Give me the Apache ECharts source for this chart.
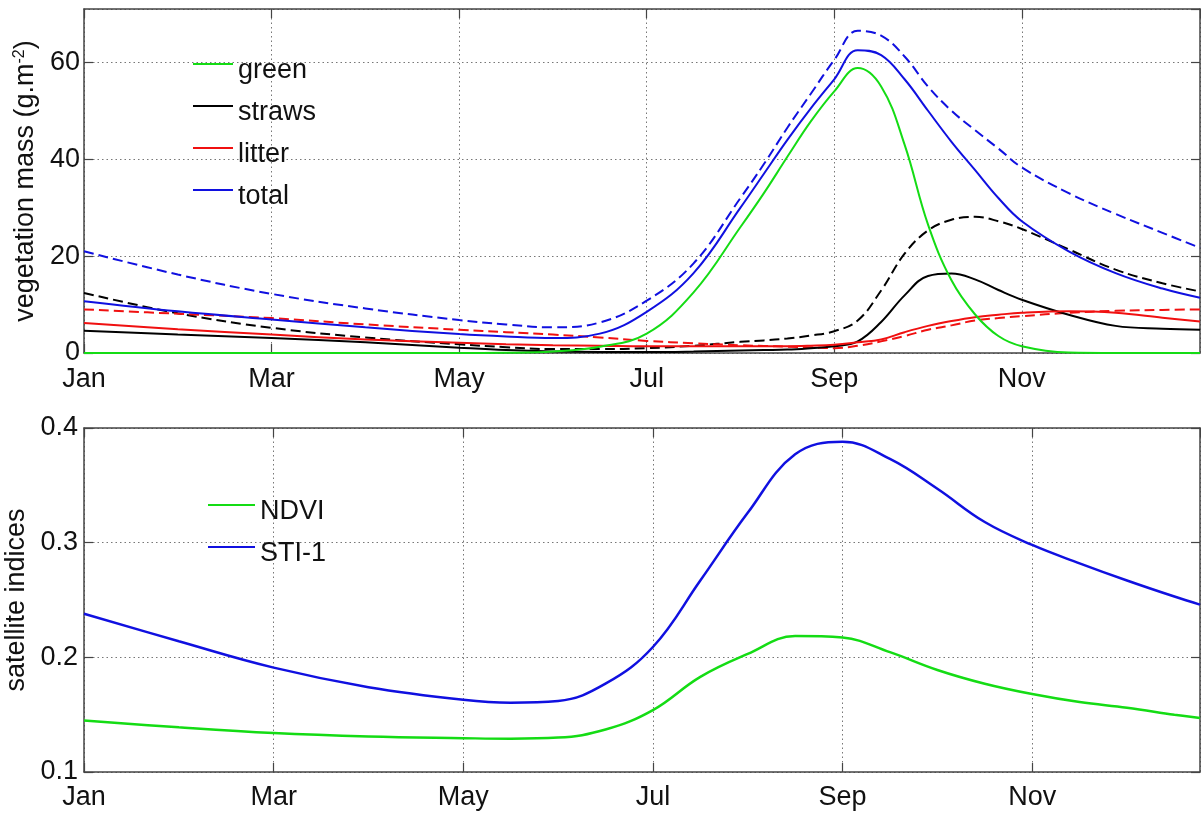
<!DOCTYPE html>
<html>
<head>
<meta charset="utf-8">
<script src="https://cdn.jsdelivr.net/npm/echarts@6/dist/echarts.min.js"></script>
<style>
  html, body { margin: 0; padding: 0; background: #fff; }
  #chart { width: 1201px; height: 816px; }
</style>
</head>
<body>
<div id="chart"></div>
<script>
// month names, ticks every 2 months starting at Jan (x = 0)
var monthNames = ["Jan", "Feb", "Mar", "Apr", "May", "Jun", "Jul", "Aug", "Sep", "Oct", "Nov", "Dec"];

// top panel: vegetation mass (g.m-2), x in months since Jan 1
var massMonths = [0, 1, 2, 3, 4, 4.5, 5, 5.5, 6, 6.5, 7, 7.25, 7.5, 7.75, 8, 8.25, 8.5, 8.75, 9, 9.25, 9.5, 9.75, 10, 10.5, 11, 11.5, 11.9];
var greenMass = [0, 0, 0, 0, 0, 0.05, 0.3, 1.3, 4.0, 12.5, 26.0, 33.0, 40.5, 47.8, 54.0, 58.8, 55.0, 43.0, 26.5, 15.0, 8.0, 3.5, 1.4, 0.1, 0, 0, 0];
var strawsMass = [4.6, 3.8, 3.1, 2.2, 1.1, 0.6, 0.3, 0.2, 0.2, 0.3, 0.5, 0.6, 0.7, 1.0, 1.4, 2.4, 6.4, 11.9, 15.9, 16.4, 15.2, 13.0, 11.0, 7.9, 5.6, 5.0, 4.8];
var strawsMassAlt = [12.4, 8.2, 5.2, 3.2, 1.8, 1.2, 0.8, 0.8, 1.0, 1.5, 2.3, 2.6, 3.0, 3.6, 4.5, 6.7, 12.9, 20.5, 25.3, 27.5, 28.1, 27.2, 25.6, 21.4, 17.2, 14.4, 12.7];
var litterMass = [6.2, 4.9, 3.8, 2.8, 2.1, 1.8, 1.6, 1.5, 1.4, 1.4, 1.4, 1.4, 1.4, 1.5, 1.7, 2.2, 2.8, 4.3, 5.6, 6.6, 7.4, 7.9, 8.3, 8.6, 8.3, 7.3, 6.5];
var litterMassAlt = [9.0, 8.1, 7.2, 5.9, 4.8, 4.3, 3.8, 3.2, 2.5, 2.0, 1.6, 1.45, 1.3, 1.15, 1.0, 1.5, 2.4, 3.5, 4.8, 5.7, 6.7, 7.2, 7.6, 8.3, 8.7, 8.9, 9.0];
var totalMass = [10.7, 8.6, 6.9, 5.3, 3.9, 3.4, 3.1, 4.0, 8.5, 16.5, 30.0, 37.0, 44.0, 50.5, 56.5, 62.5, 61.5, 56.5, 50.0, 43.6, 37.8, 32.0, 27.2, 21.0, 16.5, 13.3, 11.4];
var totalMassAlt = [21.0, 16.2, 12.2, 9.2, 6.8, 5.9, 5.3, 6.3, 10.8, 18.5, 32.0, 39.0, 46.5, 53.5, 60.5, 66.5, 65.5, 61.2, 55.0, 50.0, 46.0, 42.2, 38.3, 33.0, 28.7, 24.8, 21.7];

// bottom panel: satellite indices
var indexMonths = [0, 1, 2, 3, 4, 4.5, 5, 5.5, 6, 6.5, 7, 7.5, 8, 8.5, 9, 9.5, 10, 10.5, 11, 11.5, 11.77];
var ndviValues = [0.145, 0.139, 0.134, 0.131, 0.1295, 0.129, 0.130, 0.137, 0.154, 0.183, 0.203, 0.2185, 0.2172, 0.2045, 0.189, 0.177, 0.168, 0.161, 0.156, 0.150, 0.147];
var stiValues = [0.238, 0.214, 0.191, 0.174, 0.163, 0.1605, 0.162, 0.177, 0.209, 0.267, 0.326, 0.377, 0.388, 0.373, 0.347, 0.318, 0.298, 0.282, 0.267, 0.253, 0.246];

var FONT = '"Liberation Sans", Arial, Helvetica, sans-serif';
var AXIS_COLOR = "#444";
var GREEN = "#14dc14", BLACK = "#000000", RED = "#f01010", BLUE = "#1010e0";

function pairs(xs, ys) {
    return xs.map(function(x, i) { return [x, ys[i]]; });
}

function monthLabel(v) {
    return monthNames[Math.round(v)] || "";
}

// x axis: bottom one has labels + dotted grid, top one only closes the box
function makeX(grid, max, top, margin) {
    return {
        type: "value", gridIndex: grid, position: top ? "top" : "bottom",
        min: 0, max: max, interval: 2,
        axisLine: { show: true, onZero: false, lineStyle: { color: AXIS_COLOR, width: 1.5 } },
        axisTick: { show: true, inside: true, length: 9, lineStyle: { color: AXIS_COLOR, width: 1.2 } },
        axisLabel: { show: !top, formatter: monthLabel, fontSize: 27, fontFamily: FONT, color: "#111",
            margin: margin, showMaxLabel: false },
        splitLine: { show: !top, lineStyle: { color: "#777", type: [1.5, 3], width: 1 } }
    };
}

function makeY(grid, min, max, interval, right, extra) {
    var ax = {
        type: "value", gridIndex: grid, position: right ? "right" : "left",
        min: min, max: max, interval: interval,
        axisLine: { show: true, onZero: false, lineStyle: { color: AXIS_COLOR, width: 1.5 } },
        axisTick: { show: true, inside: true, length: 9, lineStyle: { color: AXIS_COLOR, width: 1.2 } },
        axisLabel: { show: !right, fontSize: 27, fontFamily: FONT, color: "#111" },
        splitLine: { show: !right, lineStyle: { color: "#777", type: [1.5, 3], width: 1 } }
    };
    for (var k in extra) ax[k] = extra[k];
    return ax;
}

function line(name, xs, ys, color, dashed, xi, width) {
    return {
        name: name, type: "line", xAxisIndex: xi, yAxisIndex: xi,
        data: pairs(xs, ys), symbol: "none", smooth: 0.4,
        clip: false, silent: true,
        lineStyle: { color: color, width: width || 2, type: dashed ? [10, 5] : "solid" },
        itemStyle: { color: color }
    };
}

// legend: thin rect icon = line sample, text sits a bit lower than the line
var legendText = {
    fontSize: 27, fontFamily: FONT, color: "#111",
    rich: { t: { fontSize: 27, fontFamily: FONT, color: "#111", padding: [13, 0, 0, 0] } }
};
function legendFmt(name) { return "{t|" + name + "}"; }

var option = {
    animation: false,
    backgroundColor: "#fff",
    grid: [
        { left: 84, right: 1, top: 9, height: 344, outerBoundsMode: "none", containLabel: false },
        { left: 84, right: 1, top: 428, height: 344, outerBoundsMode: "none", containLabel: false }
    ],
    xAxis: [
        makeX(0, 11.9, false, 13), makeX(0, 11.9, true, 0),
        makeX(1, 11.77, false, 12), makeX(1, 11.77, true, 0)
    ],
    yAxis: [
        makeY(0, 0, 71, 20, false, {
            name: "vegetation mass (g.m{sup|-2})", nameLocation: "middle", nameGap: 41,
            nameTextStyle: { fontSize: 27, fontFamily: FONT, color: "#111",
                rich: { sup: { fontSize: 16, fontFamily: FONT, color: "#111", verticalAlign: "top", padding: [0, 0, 12, 0] } } },
            axisLabel: { fontSize: 27, fontFamily: FONT, color: "#111", margin: 4, showMaxLabel: false }
        }),
        makeY(0, 0, 71, 20, true, {}),
        makeY(1, 0.1, 0.4, 0.1, false, {
            name: "satellite indices", nameLocation: "middle", nameGap: 52,
            nameTextStyle: { fontSize: 27, fontFamily: FONT, color: "#111" },
            axisLabel: { fontSize: 27, fontFamily: FONT, color: "#111", margin: 6,
                formatter: function(v) { return (Math.round(v * 10) / 10).toFixed(1); } }
        }),
        makeY(1, 0.1, 0.4, 0.1, true, {})
    ],
    legend: [
        { data: ["green", "straws", "litter", "total"], orient: "vertical", left: 193, top: 57,
          icon: "rect", itemWidth: 40, itemHeight: 2, itemGap: 15, padding: 0, selectedMode: false,
          formatter: legendFmt, textStyle: legendText },
        { data: ["NDVI", "STI-1"], orient: "vertical", left: 208, top: 498,
          icon: "rect", itemWidth: 47, itemHeight: 2, itemGap: 15, padding: 0, selectedMode: false,
          formatter: legendFmt, textStyle: legendText }
    ],
    series: [
        line("straws alt", massMonths, strawsMassAlt, BLACK, true, 0),
        line("litter alt", massMonths, litterMassAlt, RED, true, 0),
        line("total alt", massMonths, totalMassAlt, BLUE, true, 0),
        line("straws", massMonths, strawsMass, BLACK, false, 0),
        line("litter", massMonths, litterMass, RED, false, 0),
        line("total", massMonths, totalMass, BLUE, false, 0),
        line("green", massMonths, greenMass, GREEN, false, 0),
        line("NDVI", indexMonths, ndviValues, GREEN, false, 2, 2.5),
        line("STI-1", indexMonths, stiValues, BLUE, false, 2, 2.5)
    ]
};

var chart = echarts.init(document.getElementById("chart"), null, { renderer: "canvas" });
chart.setOption(option);
</script>
</body>
</html>
